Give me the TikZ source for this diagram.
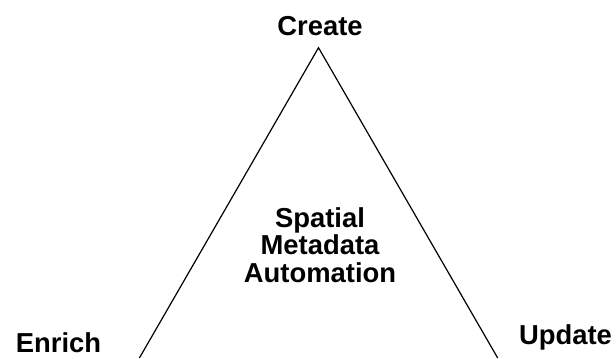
\documentclass[tikz,border=0pt]{standalone}
\usepackage{fontspec}
\setmainfont{Liberation Sans}
\usepackage{tikz}

\tikzset{
  lbl/.style={font=\bfseries\fontsize{27.5}{27.5}\selectfont, inner sep=0pt, anchor=base},
}

\begin{document}
\begin{tikzpicture}[x=1bp,y=-1bp]
		\useasboundingbox (0,0) rectangle (616,358);
		% corners of the triangle
		\coordinate (top) at (318.5,47.7);
		\coordinate (bl) at (139.4,358);
		\coordinate (br) at (497.7,358);
		%
		\node[lbl] (create) at (320,35) {Create};
		\node[lbl] (enrich) at (58.5,352) {Enrich};
		\node[lbl] (update) at (565.5,344) {Update};
		\node[lbl, anchor=center, align=center] (sma) at (320,245) {Spatial\\Metadata\\Automation};
		%
		\draw[line width=1.2bp] (bl) -- (top) -- (br);
	\end{tikzpicture}
\end{document}
